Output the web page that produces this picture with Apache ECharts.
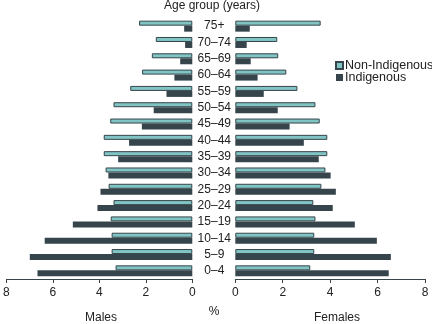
<!DOCTYPE html>
<html>
<head>
<meta charset="utf-8">
<script src="https://cdn.jsdelivr.net/npm/echarts@6/dist/echarts.min.js"></script>
<style>
  html, body { margin: 0; padding: 0; background: #fff; }
  #container { width: 432px; height: 324px; }
</style>
</head>
<body>
<div id="container"></div>
<script>
// age groups, bottom to top
var ages = ['0–4', '5–9', '10–14', '15–19', '20–24', '25–29', '30–34', '35–39',
            '40–44', '45–49', '50–54', '55–59', '60–64', '65–69', '70–74', '75+'];
var maleNonIndig = [3.30, 3.47, 3.47, 3.51, 3.39, 3.60, 3.73, 3.81, 3.81, 3.53, 3.39, 2.67, 2.16, 1.74, 1.57, 2.29];
var maleIndig    = [6.66, 6.99, 6.35, 5.14, 4.08, 3.95, 3.61, 3.19, 2.72, 2.17, 1.66, 1.11, 0.77, 0.52, 0.31, 0.35];
var femNonIndig  = [3.16, 3.33, 3.33, 3.38, 3.29, 3.63, 3.80, 3.88, 3.88, 3.56, 3.38, 2.62, 2.15, 1.81, 1.77, 3.60];
var femIndig     = [6.47, 6.56, 5.97, 5.04, 4.11, 4.24, 4.02, 3.52, 2.89, 2.29, 1.79, 1.20, 0.94, 0.65, 0.48, 0.61];
var xTicks = [0, 2, 4, 6, 8];

var teal = '#80c4c4';
var dark = '#36454b';
var font = "'Liberation Sans', Arial, sans-serif";

var myChart = echarts.init(document.getElementById('container'));

function xAxis(idx, inverse) {
    return {
        type: 'value', gridIndex: idx, inverse: inverse,
        min: xTicks[0], max: xTicks[xTicks.length - 1], interval: 2,
        axisLine: { show: true, lineStyle: { color: dark, width: 1 } },
        axisTick: { show: true, length: 4, lineStyle: { color: dark } },
        axisLabel: { color: '#222', fontSize: 12, fontFamily: font, margin: 8 },
        splitLine: { show: false }
    };
}
function yAxis(idx, showLabel) {
    return {
        type: 'category', gridIndex: idx, data: ages,
        axisLine: { show: false }, axisTick: { show: false },
        axisLabel: { show: showLabel, align: 'center', margin: 21, color: '#222', fontSize: 12, fontFamily: font }
    };
}
function bars(name, idx, data, color, border, w) {
    return {
        name: name, type: 'bar', xAxisIndex: idx, yAxisIndex: idx,
        data: data, barWidth: w, barGap: 0,
        itemStyle: { color: color, borderColor: dark, borderWidth: border },
        animation: false
    };
}

var option = {
    animation: false,
    grid: [
        { left: 3.3, right: 239.7, top: 18, bottom: 45 },
        { left: 235.3, right: 7, top: 18, bottom: 45 }
    ],
    xAxis: [xAxis(0, true), xAxis(1, false)],
    yAxis: [yAxis(0, false), yAxis(1, true)],
    legend: {
        data: ['Non-Indigenous', 'Indigenous'],
        orient: 'vertical', left: 330, top: 54,
        icon: 'rect',
        itemWidth: 7, itemHeight: 7, itemGap: -1,
        textStyle: { color: '#222', fontSize: 12.5, fontFamily: font, padding: [0, 0, 0, -3] }
    },
    series: [
        bars('Non-Indigenous', 0, maleNonIndig, teal, 1, 5),
        bars('Indigenous', 0, maleIndig, dark, 0, 6),
        bars('Non-Indigenous', 1, femNonIndig, teal, 1, 5),
        bars('Indigenous', 1, femIndig, dark, 0, 6)
    ],
    graphic: [
        { type: 'text', x: 212, y: 6,
          style: { text: 'Age group (years)', fill: '#222', fontSize: 12, fontFamily: font, textAlign: 'center', textVerticalAlign: 'middle' } },
        { type: 'text', x: 214, y: 312, style: { text: '%', fill: '#222', fontSize: 12, fontFamily: font, textAlign: 'center', textVerticalAlign: 'middle' } },
        { type: 'text', x: 101, y: 318, style: { text: 'Males', fill: '#222', fontSize: 12, fontFamily: font, textAlign: 'center', textVerticalAlign: 'middle' } },
        { type: 'text', x: 337, y: 318, style: { text: 'Females', fill: '#222', fontSize: 12, fontFamily: font, textAlign: 'center', textVerticalAlign: 'middle' } }
    ]
};

myChart.setOption(option);
</script>
</body>
</html>
